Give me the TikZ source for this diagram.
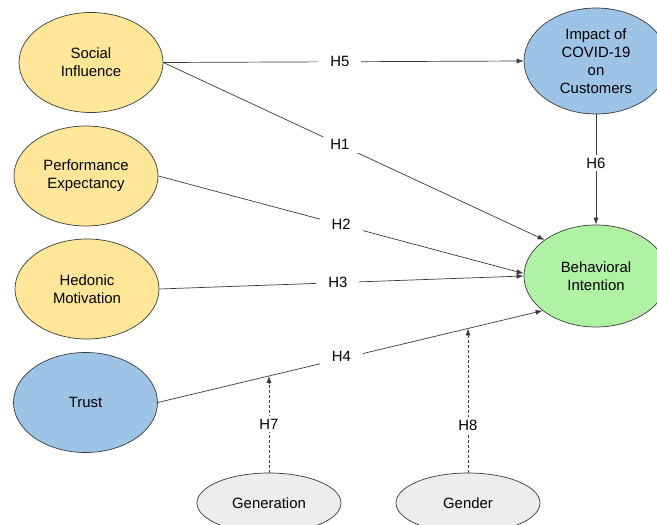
\documentclass[tikz,border=0pt]{standalone}
\usepackage{fontspec}
\setmainfont{Liberation Sans}
\usetikzlibrary{shapes.geometric,arrows.meta}
\definecolor{yel}{HTML}{FFE699}
\definecolor{blu}{HTML}{9DC3E6}
\definecolor{grn}{HTML}{B0F2A4}
\definecolor{gry}{HTML}{EDEDED}
\definecolor{edgec}{HTML}{3A3A3A}
\begin{document}
\begin{tikzpicture}[x=1pt,y=-1pt,
  construct/.style={ellipse,draw=edgec,line width=0.7pt,minimum width=144pt,minimum height=100pt,inner sep=0pt,align=center,font=\fontsize{14.9}{18}\selectfont},
  link/.style={draw=edgec,line width=0.7pt,-{Latex[length=7pt,width=5pt]}},
  modlink/.style={link,dashed,dash pattern=on 3pt off 2pt},
  hlab/.style={fill=white,inner xsep=12pt,inner ysep=3pt,font=\fontsize{14.9}{18}\selectfont}
]
\useasboundingbox (0,0) rectangle (657,525);
\clip (0,0) rectangle (657,525);

\node[construct,fill=yel] (SI) at (91,62.5) {Social\\Influence};
\node[construct,fill=yel] (PE) at (86,176) {Performance\\Expectancy};
\node[construct,fill=yel] (HM) at (87,289) {Hedonic\\Motivation};
\node[construct,fill=blu] (TR) at (85.5,402.5) {Trust};
\node[construct,fill=blu,minimum height=106pt] (IC) at (596,61) {Impact of\\COVID-19\\on\\Customers};
\node[construct,fill=grn,minimum height=102pt] (BI) at (596,276) {Behavioral\\Intention};
\node[construct,fill=gry,minimum height=60pt] (GN) at (269,503) {Generation};
\node[construct,fill=gry,minimum height=60pt] (GD) at (468,503) {Gender};

\draw[link] (SI.east) -- node[hlab,pos=0.49] {H5} (IC.west);
\draw[link] (SI.east) -- node[hlab,pos=0.463] {H1} (BI.145);
\draw[link] (PE.east) -- node[hlab,pos=0.5] {H2} (BI.178);
\draw[link] (HM.east) -- node[hlab,pos=0.49] {H3} (BI.180);
\draw[link] (TR.east) -- node[hlab,pos=0.477,yshift=2pt] {H4} coordinate[pos=0.29] (m7) coordinate[pos=0.806] (m8) (BI.213);
\draw[link] (IC.south) -- node[hlab,pos=0.44] {H6} (BI.north);
\draw[modlink] (GN.north) -- node[hlab,inner xsep=2pt,pos=0.5] {H7} (GN.north |- m7);
\draw[modlink] (GD.north) -- node[hlab,inner xsep=2pt,pos=0.33] {H8} (GD.north |- m8);
\end{tikzpicture}
\end{document}
